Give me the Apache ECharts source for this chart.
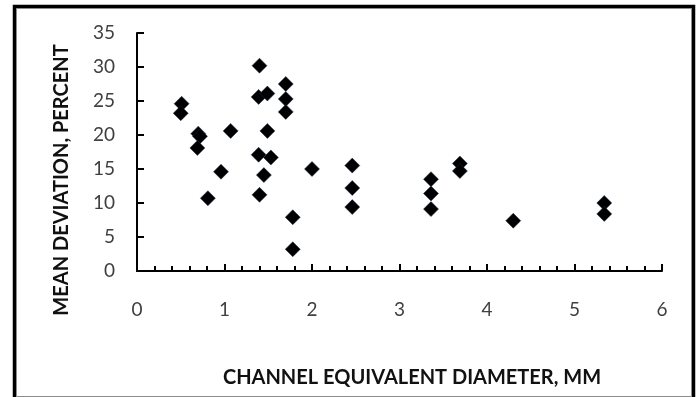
<!DOCTYPE html>
<html>
<head>
<meta charset="utf-8">
<script src="https://cdn.jsdelivr.net/npm/echarts@6/dist/echarts.min.js"></script>
<style>
  html, body { margin: 0; padding: 0; background: #fff; }
  #chart { width: 699px; height: 397px; }
</style>
</head>
<body>
<div id="chart"></div>
<script>
// 通道当量直径 (mm)
let diameters = [
  0.51, 0.50,
  0.70, 0.72, 0.69,
  0.81, 0.96, 1.07,
  1.40, 1.39, 1.49, 1.39, 1.40, 1.45, 1.49, 1.53,
  1.70, 1.70, 1.70,
  1.78, 1.78,
  2.00,
  2.46, 2.46, 2.46,
  3.36, 3.36, 3.36,
  3.69, 3.69,
  4.30,
  5.34, 5.34
];
// 平均偏差 (%)
let deviations = [
  24.6, 23.2,
  20.2, 19.8, 18.1,
  10.7, 14.6, 20.6,
  30.2, 25.6, 26.1, 17.1, 11.2, 14.1, 20.6, 16.7,
  27.5, 25.3, 23.4,
  7.9, 3.2,
  15.0,
  15.5, 12.2, 9.4,
  13.5, 11.4, 9.1,
  15.8, 14.7,
  7.4,
  10.0, 8.4
];

let xTitle = 'CHANNEL EQUIVALENT DIAMETER, MM';
let yTitle = 'MEAN DEVIATION, PERCENT';

let points = diameters.map(function(d, i) {
  return [d, deviations[i]];
});

let myChart = echarts.init(document.getElementById('chart'));

let labelFont = 'Lato, "Open Sans", sans-serif';

let option = {
  animation: false,
  backgroundColor: '#fff',
  grid: {
    left: 137,
    right: 37,
    top: 33,
    bottom: 126
  },
  xAxis: {
    type: 'value',
    min: 0,
    max: 6,
    interval: 1,
    axisLine: { show: true, lineStyle: { color: '#000', width: 2 } },
    axisTick: { show: true, inside: true, length: 7, lineStyle: { color: '#000', width: 2 } },
    minorTick: { show: true, splitNumber: 5, length: 5, lineStyle: { color: '#000', width: 2 } },
    splitLine: { show: false },
    axisLabel: {
      color: '#404040',
      fontSize: 19,
      fontFamily: labelFont,
      margin: 29
    }
  },
  yAxis: {
    type: 'value',
    min: 0,
    max: 35,
    interval: 5,
    axisLine: { show: true, lineStyle: { color: '#000', width: 2 } },
    axisTick: { show: true, inside: true, length: 7, lineStyle: { color: '#000', width: 2 } },
    splitLine: { show: false },
    axisLabel: {
      color: '#404040',
      fontSize: 19,
      fontFamily: labelFont,
      margin: 22
    }
  },
  graphic: [
    {
      type: 'rect',
      shape: { x: 14.5, y: 6.5, width: 679, height: 400 },
      style: { fill: 'none', stroke: '#000', lineWidth: 3.5 }
    },
    {
      type: 'rect',
      shape: { x: 16.5, y: 8.5, width: 675, height: 388 },
      style: { fill: 'none', stroke: '#8c8c8c', lineWidth: 1 }
    },
    {
      type: 'text',
      x: 412,
      y: 378,
      style: {
        text: xTitle,
        fontSize: 20,
        fontWeight: 'bold',
        fontFamily: labelFont,
        fill: '#111',
        align: 'center',
        verticalAlign: 'middle'
      }
    },
    {
      type: 'text',
      x: 62,
      y: 180,
      rotation: Math.PI / 2,
      style: {
        text: yTitle,
        fontSize: 20,
        fontWeight: 'bold',
        fontFamily: labelFont,
        fill: '#111',
        align: 'center',
        verticalAlign: 'middle'
      }
    }
  ],
  series: [
    {
      type: 'scatter',
      data: points,
      symbol: 'diamond',
      symbolSize: 15,
      itemStyle: {
        color: '#000',
        opacity: 1,
        borderColor: '#1c2f4a',
        borderWidth: 0.5
      }
    }
  ]
};

myChart.setOption(option);
</script>
</body>
</html>
